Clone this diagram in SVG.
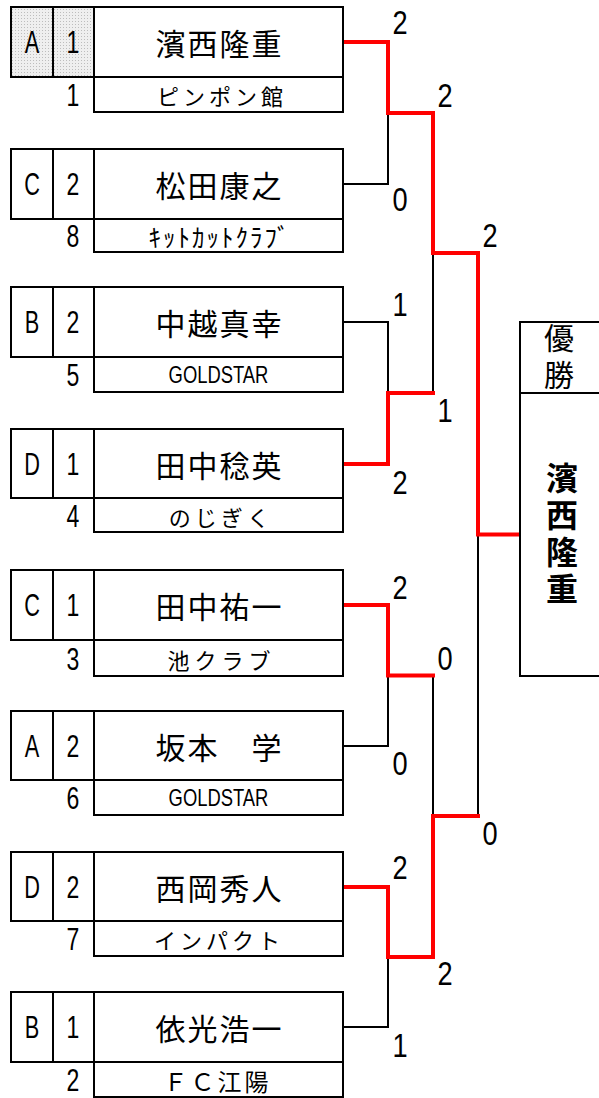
<svg xmlns="http://www.w3.org/2000/svg" width="599" height="1098" viewBox="0 0 599 1098">
<defs>
<pattern id="dots" width="3" height="3" patternUnits="userSpaceOnUse">
<rect width="3" height="3" fill="#efefef"/>
<rect width="1" height="1" fill="#bdbdbd"/>
</pattern>
</defs>
<style>
.box{fill:none;stroke:#000;stroke-width:2}
.ln{stroke:#000;stroke-width:2}
.wire{fill:none;stroke:#000;stroke-width:2}
.win{fill:none;stroke:#ff0000;stroke-width:4;stroke-linejoin:miter;stroke-linecap:square}
.lat{font-family:"Liberation Sans",Arial,sans-serif;font-size:32px;fill:#000;text-anchor:middle;dominant-baseline:central}
.sc{font-family:"Liberation Sans",Arial,sans-serif;font-size:34px;fill:#000;text-anchor:middle;dominant-baseline:central}
.nm{font-family:"Noto Sans CJK JP","Noto Sans CJK SC",sans-serif;font-size:30px;letter-spacing:2px;fill:#000;text-anchor:middle;dominant-baseline:central}
.cl{font-family:"Noto Sans CJK JP","Noto Sans CJK SC",sans-serif;font-size:22px;fill:#000;text-anchor:middle;dominant-baseline:central}
.gs{font-family:"Liberation Sans",Arial,sans-serif;font-size:23px;fill:#000;text-anchor:middle;dominant-baseline:central}
.wt{font-family:"Noto Sans CJK JP","Noto Sans CJK SC",sans-serif;font-size:30px;letter-spacing:7px;fill:#000;writing-mode:vertical-rl}
.wn{font-family:"Noto Sans CJK JP","Noto Sans CJK SC",sans-serif;font-size:32px;letter-spacing:5px;font-weight:bold;fill:#000;writing-mode:vertical-rl}
</style>

<g id="connectors">
<polyline class="wire" points="343,184 388,184 388,113"/>
<polyline class="wire" points="343,322 388,322 388,393"/>
<polyline class="wire" points="343,746 388,746 388,675.5"/>
<polyline class="wire" points="343,1027 388,1027 388,957"/>
<polyline class="wire" points="433,393 433,253"/>
<polyline class="wire" points="433,675.5 433,816"/>
<polyline class="wire" points="478,816 478,534.5"/>
<polyline class="win" points="345,42 388,42 388,113 433,113"/>
<polyline class="win" points="345,464 388,464 388,393 433,393"/>
<polyline class="win" points="345,605 388,605 388,675.5 433,675.5"/>
<polyline class="win" points="345,887 388,887 388,957 433,957"/>
<polyline class="win" points="433,113 433,253 478,253"/>
<polyline class="win" points="433,957 433,816 478,816"/>
<polyline class="win" points="478,253 478,534.5 518,534.5"/>
<text class="sc" transform="translate(400,22.5) scale(0.8,1)">2</text>
<text class="sc" transform="translate(400,199) scale(0.8,1)">0</text>
<text class="sc" transform="translate(445,95) scale(0.8,1)">2</text>
<text class="sc" transform="translate(400,304) scale(0.8,1)">1</text>
<text class="sc" transform="translate(400,482) scale(0.8,1)">2</text>
<text class="sc" transform="translate(445,410) scale(0.8,1)">1</text>
<text class="sc" transform="translate(490,235) scale(0.8,1)">2</text>
<text class="sc" transform="translate(400,587) scale(0.8,1)">2</text>
<text class="sc" transform="translate(400,763) scale(0.8,1)">0</text>
<text class="sc" transform="translate(445,658) scale(0.8,1)">0</text>
<text class="sc" transform="translate(400,867) scale(0.8,1)">2</text>
<text class="sc" transform="translate(400,1045) scale(0.8,1)">1</text>
<text class="sc" transform="translate(445,973) scale(0.8,1)">2</text>
<text class="sc" transform="translate(490,833) scale(0.8,1)">0</text>
</g>

<g id="p1">
<rect x="11" y="7" width="83" height="70" fill="url(#dots)"/>
<rect class="box" x="11" y="7" width="332" height="70"/>
<line class="ln" x1="53" y1="7" x2="53" y2="77"/><line class="ln" x1="94" y1="7" x2="94" y2="77"/>
<rect class="box" x="94" y="77" width="249" height="35"/>
<text class="lat" transform="translate(32,42) scale(0.68,1)">A</text>
<text class="lat" transform="translate(73,42) scale(0.72,1)">1</text>
<text class="nm" x="219.5" y="42">濱西隆重</text>
<text class="lat" transform="translate(73,95) scale(0.72,1)">1</text>
<text class="cl" x="222" y="95" style="letter-spacing:4px">ピンポン館</text>
</g>

<g id="p2">
<rect class="box" x="11" y="149" width="332" height="70"/>
<line class="ln" x1="53" y1="149" x2="53" y2="219"/><line class="ln" x1="94" y1="149" x2="94" y2="219"/>
<rect class="box" x="94" y="219" width="249" height="33"/>
<text class="lat" transform="translate(32,184) scale(0.68,1)">C</text>
<text class="lat" transform="translate(73,184) scale(0.72,1)">2</text>
<text class="nm" x="219.5" y="184">松田康之</text>
<text class="lat" transform="translate(73,236) scale(0.72,1)">8</text>
<text class="cl" x="220" y="236" style="letter-spacing:2px;font-size:25px">ｷｯﾄｶｯﾄｸﾗﾌﾞ</text>
</g>

<g id="p3">
<rect class="box" x="11" y="287" width="332" height="70"/>
<line class="ln" x1="53" y1="287" x2="53" y2="357"/><line class="ln" x1="94" y1="287" x2="94" y2="357"/>
<rect class="box" x="94" y="357" width="249" height="35"/>
<text class="lat" transform="translate(32,322) scale(0.68,1)">B</text>
<text class="lat" transform="translate(73,322) scale(0.72,1)">2</text>
<text class="nm" x="219.5" y="322">中越真幸</text>
<text class="lat" transform="translate(73,375) scale(0.72,1)">5</text>
<text class="gs" transform="translate(218.5,375) scale(0.8,1)">GOLDSTAR</text>
</g>

<g id="p4">
<rect class="box" x="11" y="429" width="332" height="69"/>
<line class="ln" x1="53" y1="429" x2="53" y2="498"/><line class="ln" x1="94" y1="429" x2="94" y2="498"/>
<rect class="box" x="94" y="498" width="249" height="34"/>
<text class="lat" transform="translate(32,464) scale(0.68,1)">D</text>
<text class="lat" transform="translate(73,464) scale(0.72,1)">1</text>
<text class="nm" x="219.5" y="464">田中稔英</text>
<text class="lat" transform="translate(73,516) scale(0.72,1)">4</text>
<text class="cl" x="221" y="516" style="letter-spacing:4px">のじぎく</text>
</g>

<g id="p5">
<rect class="box" x="11" y="570" width="332" height="70"/>
<line class="ln" x1="53" y1="570" x2="53" y2="640"/><line class="ln" x1="94" y1="570" x2="94" y2="640"/>
<rect class="box" x="94" y="640" width="249" height="36"/>
<text class="lat" transform="translate(32,605) scale(0.68,1)">C</text>
<text class="lat" transform="translate(73,605) scale(0.72,1)">1</text>
<text class="nm" x="219.5" y="605">田中祐一</text>
<text class="lat" transform="translate(73,659) scale(0.72,1)">3</text>
<text class="cl" x="221.5" y="659" style="letter-spacing:5px">池クラブ</text>
</g>

<g id="p6">
<rect class="box" x="11" y="711" width="332" height="69"/>
<line class="ln" x1="53" y1="711" x2="53" y2="780"/><line class="ln" x1="94" y1="711" x2="94" y2="780"/>
<rect class="box" x="94" y="780" width="249" height="35"/>
<text class="lat" transform="translate(32,746) scale(0.68,1)">A</text>
<text class="lat" transform="translate(73,746) scale(0.72,1)">2</text>
<text class="nm" x="219.5" y="746">坂本　学</text>
<text class="lat" transform="translate(73,798) scale(0.72,1)">6</text>
<text class="gs" transform="translate(218.5,798) scale(0.8,1)">GOLDSTAR</text>
</g>

<g id="p7">
<rect class="box" x="11" y="852" width="332" height="69"/>
<line class="ln" x1="53" y1="852" x2="53" y2="921"/><line class="ln" x1="94" y1="852" x2="94" y2="921"/>
<rect class="box" x="94" y="921" width="249" height="35"/>
<text class="lat" transform="translate(32,887) scale(0.68,1)">D</text>
<text class="lat" transform="translate(73,887) scale(0.72,1)">2</text>
<text class="nm" x="219.5" y="887">西岡秀人</text>
<text class="lat" transform="translate(73,939) scale(0.72,1)">7</text>
<text class="cl" x="219" y="939" style="letter-spacing:4px">インパクト</text>
</g>

<g id="p8">
<rect class="box" x="11" y="992" width="332" height="70"/>
<line class="ln" x1="53" y1="992" x2="53" y2="1062"/><line class="ln" x1="94" y1="992" x2="94" y2="1062"/>
<rect class="box" x="94" y="1062" width="249" height="35"/>
<text class="lat" transform="translate(32,1027) scale(0.68,1)">B</text>
<text class="lat" transform="translate(73,1027) scale(0.72,1)">1</text>
<text class="nm" x="219.5" y="1027">依光浩一</text>
<text class="lat" transform="translate(73,1080) scale(0.72,1)">2</text>
<text class="cl" x="217.5" y="1080" style="letter-spacing:3px;font-size:24px">ＦＣ江陽</text>
</g>

<g id="champion">
<rect class="box" x="520" y="322" width="100" height="354"/>
<line class="ln" x1="520" y1="393" x2="599" y2="393"/>
<text class="wt" x="559" y="323">優勝</text>
<text class="wn" x="562" y="462">濱西隆重</text>
</g>
</svg>
